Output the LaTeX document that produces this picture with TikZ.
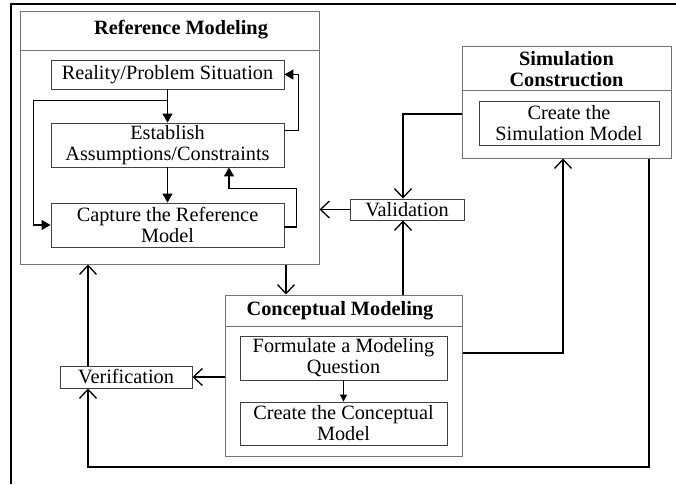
\documentclass[tikz,border=0pt]{standalone}
\usepackage{fontspec}
\setmainfont{Liberation Serif}
\usetikzlibrary{arrows.meta,calc}
\begin{document}
\begin{tikzpicture}[x=1pt,y=-1pt,
  box/.style={draw=black!75,line width=0.9pt,inner sep=0pt,align=center,
    font=\fontsize{20.3}{21}\selectfont},
  group/.style={draw=black!55,line width=1pt,inner sep=0pt},
  title/.style={inner sep=0pt,align=center,font=\fontsize{20.3}{21}\selectfont\bfseries},
  inarrow/.style={draw=black,line width=1.2pt,-{Triangle[length=9pt,width=10pt]}},
  smallarrow/.style={draw=black,line width=1pt,-{Triangle[length=7pt,width=7pt]}},
  outarrow/.style={draw=black,line width=1.5pt,-{Straight Barb[length=9pt,width=17pt,line width=1.3pt]}}]
\useasboundingbox (0,0) rectangle (676,484);
\draw[line width=2.5pt] (11,484) -- (11,4) -- (676,4);

% Reference Modeling group
\node[group,minimum width=299pt,minimum height=252pt] (RefOuter) at (169.5,138) {};
\draw[draw=black!55,line width=1pt] (RefOuter.west |- 0,51) -- (RefOuter.east |- 0,51);
\node[title] (RefTitle) at (181,30) {Reference Modeling};
\node[box,minimum width=233pt,minimum height=29pt] (Reality) at (167.5,74.5) {Reality/Problem Situation};
\node[box,minimum width=233pt,minimum height=44pt] (Establish) at (167.5,145) {Establish\\Assumptions/Constraints};
\node[box,minimum width=233pt,minimum height=44pt] (Capture) at (167.5,225) {Capture the Reference\\Model};

% Simulation Construction group
\node[group,minimum width=209pt,minimum height=111pt] (SimOuter) at (566.5,102.5) {};
\draw[draw=black!55,line width=1pt] (SimOuter.west |- 0,91) -- (SimOuter.east |- 0,91);
\node[title] (SimTitle) at (566.5,69) {Simulation\\Construction};
\node[box,minimum width=180pt,minimum height=44pt] (SimModel) at (569,123) {Create the\\Simulation Model};

% Validation / Verification
\node[box,minimum width=114pt,minimum height=21pt] (Validation) at (407,209.5) {Validation};
\node[box,minimum width=132pt,minimum height=22pt] (Verification) at (126,377) {Verification};

% Conceptual Modeling group
\node[group,minimum width=237pt,minimum height=161pt] (ConcOuter) at (343.5,375.5) {};
\draw[draw=black!55,line width=1pt] (ConcOuter.west |- 0,326) -- (ConcOuter.east |- 0,326);
\node[title] (ConcTitle) at (340,311) {Conceptual Modeling};
\node[box,minimum width=207pt,minimum height=44pt] (Formulate) at (343.5,358) {Formulate a Modeling\\Question};
\node[box,minimum width=207pt,minimum height=43pt] (ConcModel) at (343.5,423.5) {Create the Conceptual\\Model};

% helper coordinates
\coordinate (vx) at (403,0);
\coordinate (cx) at (286,0);
\coordinate (ux) at (88,0);
\coordinate (sx) at (563,353);
\coordinate (ex) at (649,467);

% inner arrows of Reference Modeling
\draw[inarrow] (Reality.south) -- (Establish.north);
\draw[inarrow] ($(Reality.south)+(0,11)$) -| ($(Capture.west)+(-17,0)$) -- (Capture.west);
\draw[inarrow] (Establish.south) -- (Capture.north);
\draw[inarrow] ($(Establish.north east)+(0,8)$) -- ++(14,0) |- (Reality.east);
\draw[inarrow] ($(Capture.east)+(0,2)$) -- ++(12,0) |- ($(Establish.south)+(61.5,21)$) -- ($(Establish.south)+(61.5,0)$);
\draw[smallarrow] (Formulate.south) -- (ConcModel.north);

% outer arrows
\draw[outarrow] ($(SimOuter.west)+(0,11.5)$) -| (Validation.north -| vx);
\draw[outarrow] (Validation.west) -- (RefOuter.east |- Validation.west);
\draw[outarrow] (ConcOuter.north -| vx) -- (Validation.south -| vx);
\draw[outarrow] (RefOuter.south -| cx) -- (ConcOuter.north -| cx);
\draw[outarrow] (ConcOuter.east |- sx) -| (SimOuter.south -| sx);
\draw[outarrow] (ConcOuter.west |- Verification.east) -- (Verification.east);
\draw[outarrow] (Verification.north -| ux) -- (RefOuter.south -| ux);
\draw[outarrow] (SimOuter.south -| ex) -- (ex) -| (Verification.south -| ux);
\end{tikzpicture}
\end{document}
